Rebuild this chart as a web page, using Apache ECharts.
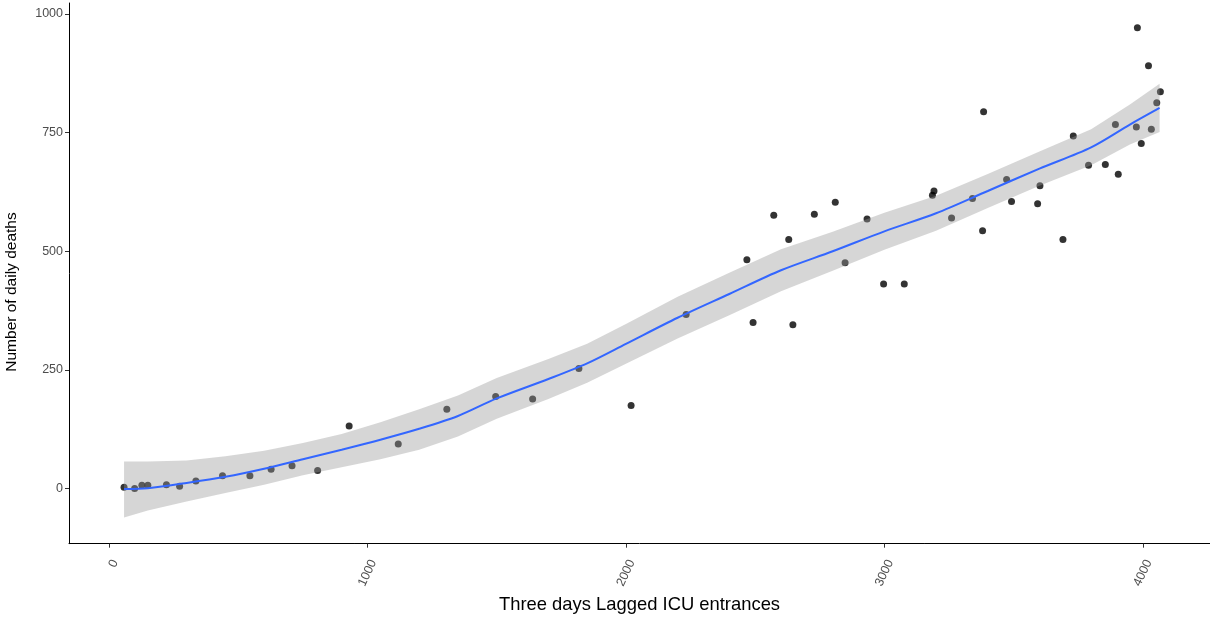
<!DOCTYPE html>
<html>
<head>
<meta charset="utf-8">
<script src="https://cdn.jsdelivr.net/npm/echarts@6/dist/echarts.min.js"></script>
<style>
html,body{margin:0;padding:0;background:#fff;}
#chart{width:1210px;height:619px;}
</style>
</head>
<body>
<div id="chart"></div>
<script>
// Observed points: lagged ICU entrances (x) vs daily deaths (y)
const icuLagged = [58,99,127,150,222,273,336,439,545,627,708,807,929,1119,1307,1496,1639,1818,2020,2233,
  2468,2492,2572,2630,2646,2729,2810,2848,2933,2997,3077,3186,3192,3260,3341,3380,3384,3473,3492,3593,
  3602,3691,3731,3790,3855,3894,3905,3975,3979,3994,4022,4033,4054,4068];
const dailyDeaths = [3,0,7,7,8,5,16,27,27,41,48,38,132,94,167,194,189,253,175,367,
  482,350,576,525,345,578,603,476,568,431,431,618,627,570,611,543,794,651,605,600,
  638,525,743,681,683,767,662,762,971,727,891,757,813,836];

// Smoothed fit (loess) and its confidence band
const fitX     = [58,150,300,450,600,750,900,1050,1200,1350,1500,1700,1850,2000,2200,2400,2600,2800,3000,3200,3400,3600,3800,3950,4065];
const fitY     = [-1,1,12,25,42,62,82,103,126,153,190,231,264,305,360,410,460,500,542,580,627,674,719,767,802];
const bandUpper= [57,57,59,68,80,96,115,140,167,196,233,273,305,347,404,455,504,541,581,617,663,710,757,809,853];
const bandLower= [-61,-46,-27,-9,8,28,45,62,82,110,147,189,223,263,316,365,416,459,503,543,591,638,681,725,751];

const xTicks = [0,1000,2000,3000,4000];
const yTicks = [0,250,500,750,1000];

const points = icuLagged.map((x,i)=>[x, dailyDeaths[i]]);
const fitLine = fitX.map((x,i)=>[x, fitY[i]]);

const chart = echarts.init(document.getElementById('chart'), null, {renderer:'canvas'});
const FONT = '"Liberation Sans", Arial, sans-serif';

chart.setOption({
  animation:false,
  backgroundColor:'#ffffff',
  grid:{left:69, right:0, top:3, bottom:73, containLabel:false},
  graphic:[{
    type:'text', x:12, y:292, rotation:Math.PI/2, silent:true,
    style:{text:'Number of daily deaths', fill:'#000', fontSize:15.5, fontFamily:FONT,
           textAlign:'center', textVerticalAlign:'middle'}
  }],
  xAxis:{
    type:'value', min:-155, max:4260,
    name:'Three days Lagged ICU entrances', nameLocation:'middle', nameGap:50,
    nameTextStyle:{color:'#000', fontSize:18.4, fontFamily:FONT},
    axisLine:{show:true, onZero:false, lineStyle:{color:'#000', width:1}},
    axisTick:{show:true, length:4, customValues:xTicks, lineStyle:{color:'#333', width:1}},
    axisLabel:{show:true, rotate:65, margin:14, verticalAlign:'top', customValues:xTicks, color:'#4d4d4d',
               fontSize:12.5, fontFamily:FONT, formatter:v=>String(v)},
    splitLine:{show:false}
  },
  yAxis:{
    type:'value', min:-116, max:1023,
    axisLine:{show:true, onZero:false, lineStyle:{color:'#000', width:1}},
    axisTick:{show:true, length:4, customValues:yTicks, lineStyle:{color:'#333', width:1}},
    axisLabel:{show:true, margin:6, customValues:yTicks, color:'#4d4d4d', fontSize:12.5, fontFamily:FONT,
               formatter:v=>String(v)},
    splitLine:{show:false}
  },
  series:[
    {
      type:'scatter', data:points, symbol:'circle', symbolSize:7,
      itemStyle:{color:'#000'}, z:1, silent:true
    },
    {
      type:'custom', z:2, silent:true,
      data:[[fitX[0], bandLower[0]]],
      renderItem:function(params, api){
        const pts = [];
        for (let i=0;i<fitX.length;i++) pts.push(api.coord([fitX[i], bandUpper[i]]));
        for (let i=fitX.length-1;i>=0;i--) pts.push(api.coord([fitX[i], bandLower[i]]));
        return {type:'polygon', shape:{points:pts}, style:{fill:'rgba(153,153,153,0.4)', stroke:null}};
      }
    },
    {
      type:'line', data:fitLine, smooth:0.3, showSymbol:false, z:3, silent:true,
      lineStyle:{color:'#3366FF', width:2}
    }
  ]
});
</script>
</body>
</html>
